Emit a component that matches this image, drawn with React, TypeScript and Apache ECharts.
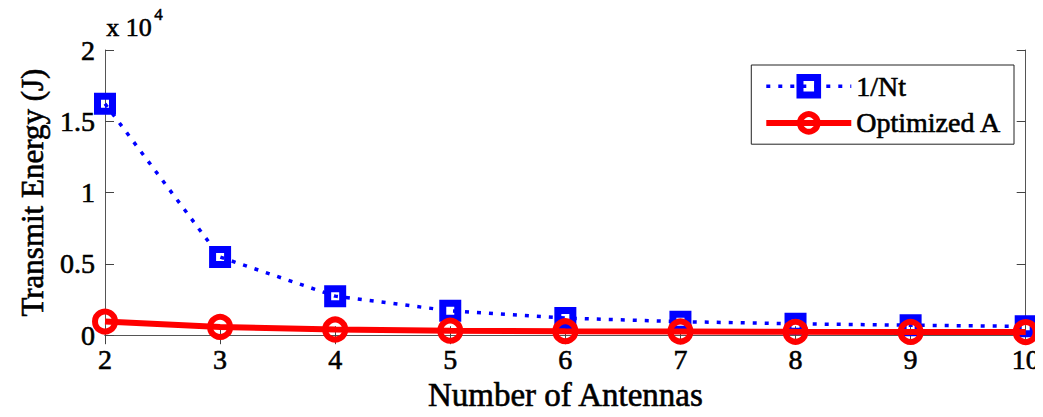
import React, { useEffect, useRef } from "react";
import * as echarts from "echarts";

const antennas = [2, 3, 4, 5, 6, 7, 8, 9, 10];
const invNt = [16230, 5480, 2740, 1710, 1200, 950, 800, 700, 620];
const optimized = [960, 580, 400, 320, 280, 260, 240, 230, 220];
const yTicks = [0, 5000, 10000, 15000, 20000];

const FONT = "'Liberation Serif', 'Times New Roman', serif";
const heavy = { textBorderColor: "#000", textBorderWidth: 0.6 };

export default function App() {
  const ref = useRef<HTMLDivElement>(null);
  useEffect(() => {
    const chart = echarts.init(ref.current!, undefined, { renderer: "svg" });
    const axisLine = { show: true, lineStyle: { color: "#555", width: 1 } };
    const tick = { show: true, inside: true, length: 9, lineStyle: { color: "#444" } };
    chart.setOption({
      animation: false,
      textStyle: { fontFamily: FONT },
      grid: { left: 105, top: 50, right: 16, bottom: 75 },
      legend: {
        right: 29,
        top: 65,
        orient: "vertical",
        align: "left",
        itemWidth: 85,
        itemHeight: 22,
        itemGap: 8,
        padding: [7, 12, 7, 12],
        borderColor: "#222",
        borderWidth: 1,
        backgroundColor: "#fff",
        textStyle: { fontFamily: FONT, fontSize: 28, color: "#000", ...heavy },
        data: [
          {
            name: "1/Nt",
            itemStyle: { borderWidth: 7, borderColor: "#0000ff", color: "rgba(255,255,255,0)" },
            lineStyle: { width: 3.5, color: "#0000ff", type: [4, 8] },
          },
          {
            name: "Optimized A",
            itemStyle: { borderWidth: 6, borderColor: "#ff0000", color: "rgba(255,255,255,0)" },
            lineStyle: { width: 6, color: "#ff0000" },
          },
        ],
      },
      graphic: [
        {
          type: "text",
          left: 106,
          top: 14,
          style: { text: "x 10", font: `26px ${FONT}`, fill: "#000", stroke: "#000", lineWidth: 0.6 },
        },
        {
          type: "text",
          left: 154,
          top: 6,
          style: { text: "4", font: `17px ${FONT}`, fill: "#000", stroke: "#000", lineWidth: 0.5 },
        },
      ],
      xAxis: [
        {
          type: "value",
          min: 2,
          max: 10,
          interval: 1,
          name: "Number of Antennas",
          nameLocation: "middle",
          nameGap: 43,
          nameTextStyle: { fontFamily: FONT, fontSize: 33, color: "#000", ...heavy },
          axisLine,
          axisTick: tick,
          axisLabel: { fontFamily: FONT, fontSize: 28, color: "#000", margin: 10, ...heavy },
          splitLine: { show: false },
        },
        {
          type: "value",
          position: "top",
          min: 2,
          max: 10,
          interval: 1,
          axisLine,
          axisTick: tick,
          axisLabel: { show: false },
          splitLine: { show: false },
        },
      ],
      yAxis: [
        {
          type: "value",
          min: yTicks[0],
          max: yTicks[yTicks.length - 1],
          interval: 5000,
          name: "Transmit Energy (J)",
          nameLocation: "middle",
          nameGap: 57,
          nameTextStyle: { fontFamily: FONT, fontSize: 31, color: "#000", ...heavy },
          axisLine,
          axisTick: tick,
          axisLabel: {
            fontFamily: FONT,
            fontSize: 28,
            color: "#000",
            margin: 10,
            ...heavy,
            formatter: (v: number) => String(v / 10000),
          },
          splitLine: { show: false },
        },
        {
          type: "value",
          position: "right",
          min: yTicks[0],
          max: yTicks[yTicks.length - 1],
          interval: 5000,
          axisLine,
          axisTick: tick,
          axisLabel: { show: false },
          splitLine: { show: false },
        },
      ],
      series: [
        {
          name: "1/Nt",
          type: "line",
          data: antennas.map((a, i) => [a, invNt[i]]),
          symbol: "rect",
          symbolSize: 15,
          lineStyle: { color: "#0000ff", width: 3.5, type: [4, 8] },
          itemStyle: { color: "rgba(255,255,255,0)", borderColor: "#0000ff", borderWidth: 7 },
          z: 2,
        },
        {
          name: "Optimized A",
          type: "line",
          data: antennas.map((a, i) => [a, optimized[i]]),
          symbol: "circle",
          symbolSize: 20,
          lineStyle: { color: "#ff0000", width: 6 },
          itemStyle: { color: "rgba(255,255,255,0)", borderColor: "#ff0000", borderWidth: 6 },
          z: 3,
        },
      ],
    });
    return () => chart.dispose();
  }, []);
  return <div ref={ref} style={{ width: 1043, height: 417, margin: -8, background: "#fff" }} />;
}
